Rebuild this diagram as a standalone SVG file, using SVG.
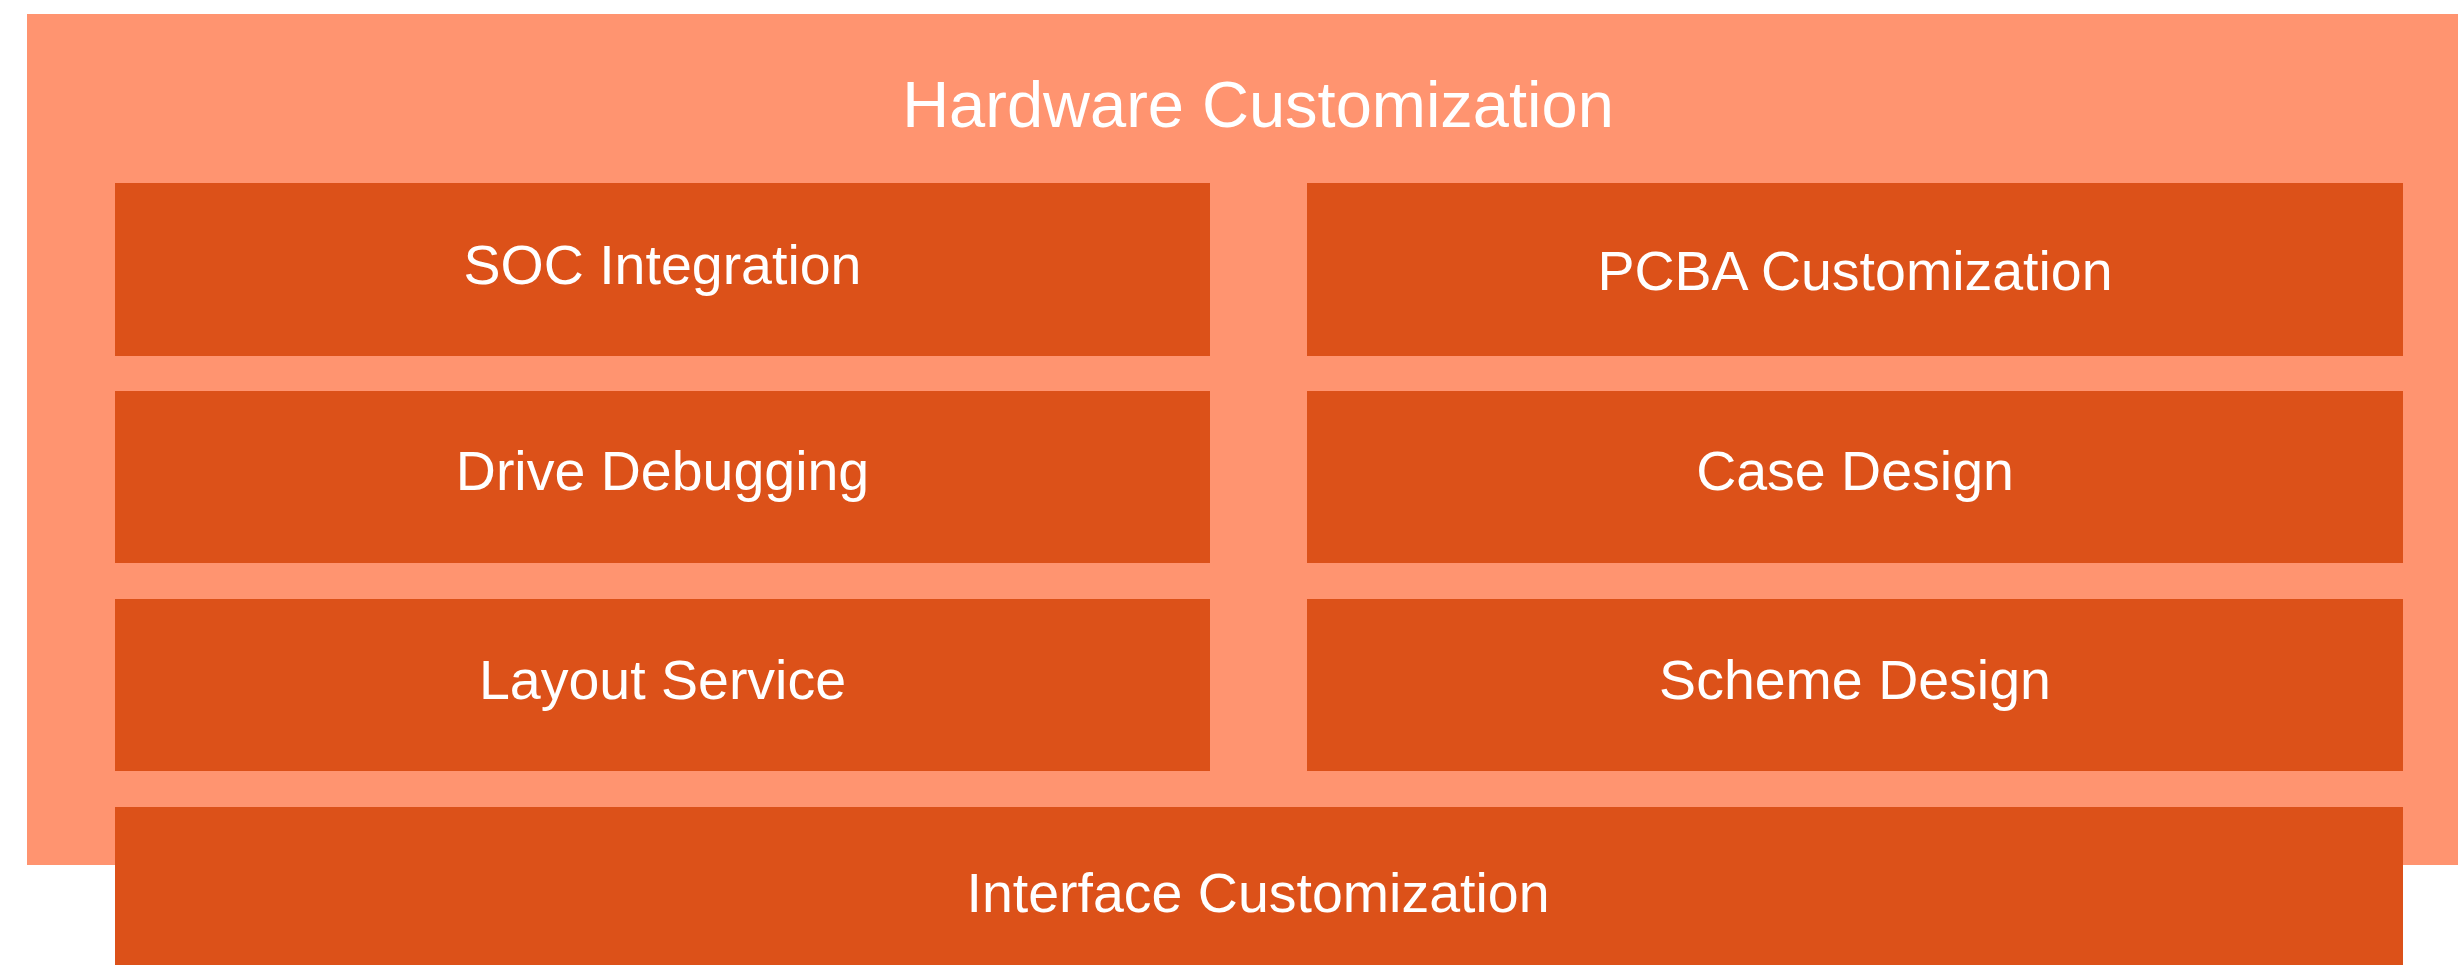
<svg xmlns="http://www.w3.org/2000/svg" width="2458" height="965" viewBox="0 0 2458 965">
<style>
.outer{fill:#FF9470}
.box{fill:#DC5119}
.t{font-family:"Liberation Sans",Arial,sans-serif;font-size:55.5px;fill:#FFFFFF;text-anchor:middle}
.title{font-size:65px}
</style>
<rect x="0" y="0" width="2458" height="965" fill="#FFFFFF"/>
<g id="hardware-customization">
<rect class="outer" x="27" y="14" width="2431" height="851"/>
<text class="t title" x="1258" y="127">Hardware Customization</text>
</g>
<g id="soc-integration">
<rect class="box" x="115" y="183" width="1095" height="173"/>
<text class="t" x="662.5" y="284">SOC Integration</text>
</g>
<g id="pcba-customization">
<rect class="box" x="1307" y="183" width="1096" height="173"/>
<text class="t" x="1855" y="290">PCBA Customization</text>
</g>
<g id="drive-debugging">
<rect class="box" x="115" y="391" width="1095" height="172"/>
<text class="t" x="662.5" y="490">Drive Debugging</text>
</g>
<g id="case-design">
<rect class="box" x="1307" y="391" width="1096" height="172"/>
<text class="t" x="1855" y="490">Case Design</text>
</g>
<g id="layout-service">
<rect class="box" x="115" y="599" width="1095" height="172"/>
<text class="t" x="662.5" y="699">Layout Service</text>
</g>
<g id="scheme-design">
<rect class="box" x="1307" y="599" width="1096" height="172"/>
<text class="t" x="1855" y="699">Scheme Design</text>
</g>
<g id="interface-customization">
<rect class="box" x="115" y="807" width="2288" height="158"/>
<text class="t" x="1258" y="912">Interface Customization</text>
</g>
<g id="connectors"></g>
</svg>
